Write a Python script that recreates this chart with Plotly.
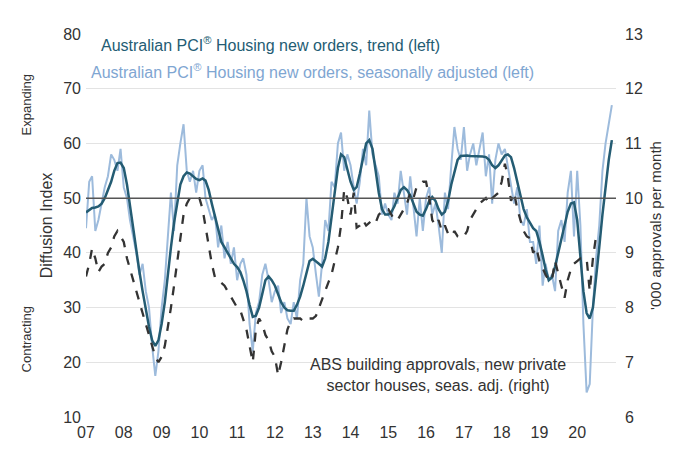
import pandas as pd
import plotly.graph_objects as go

# monthly, Jan 2007 onward
pci_trend = [
    47.4, 47.8, 48.2, 48.3, 48.5, 49, 50, 51.5, 53, 55, 56.4, 56.5,
    55.5, 52.5, 48.5, 44, 40, 36.5, 33, 29.5, 26.5, 24, 23, 24,
    27, 31, 36, 41, 45.5, 49.5, 52.5, 54, 54.7, 54.5, 54, 53.5,
    53.3, 53.6, 53.2, 51.5, 49, 46.5, 44, 42, 41, 40, 39, 38,
    37.4, 36.5, 35, 33, 30.5, 28.3, 28.5, 30, 32.5, 35, 35.7, 35,
    34, 32.5, 31, 30, 29.5, 29.4, 29.4, 30.5, 32, 34, 36.5, 38.5,
    38.9, 38.5, 38, 37.5, 39, 42, 46, 51, 55.5, 58, 57.5, 55,
    53, 51.5, 52, 54.5, 57.5, 60, 60.6, 59, 55, 51, 48, 47,
    47, 47.5, 48.5, 50, 51.5, 52, 51.5, 50.5, 49, 47.5, 47, 46.8,
    48, 49.5, 50.2, 49.5, 48, 47, 47.5, 49.5, 52.5, 55, 57, 57.7,
    57.8, 57.8, 57.7, 57.7, 57.7, 57.6, 57.6, 57.5, 57, 56, 55.5, 56,
    57, 57.8, 58, 57.5, 55.5, 53, 50, 48, 46.5, 45.5, 44.5, 44,
    42, 39.5, 37, 35, 35.5, 37.5, 40, 43, 45.5, 47.5, 49, 49.2,
    46, 40, 33, 29, 28, 30, 35, 41, 47, 52.5, 57, 60.6,
]
pci_sa = [
    44.5, 53, 54, 44, 46, 49, 52, 54, 58, 57, 55, 59,
    52, 50, 46, 43, 40, 36, 38, 33, 30, 23, 17.5, 22,
    30, 35, 42, 51, 44, 56, 60, 63.5, 55, 53, 55, 51,
    55, 56, 50, 48, 46, 47, 41, 45, 39, 42, 38, 41,
    35, 38, 39, 36, 27, 22, 29, 31, 36, 38, 35, 31,
    33, 34, 29, 31, 28, 27, 31, 28, 35, 38, 50, 43,
    41, 36, 32, 38, 46, 44, 53, 52, 60, 62, 55, 58,
    56, 52, 49, 53, 59, 56, 66, 58, 56, 54, 47, 49,
    47, 46, 51, 49, 55, 51, 47, 54, 48, 43, 50, 44,
    50, 52, 47, 49, 45, 40, 51, 48, 56, 63, 59, 57,
    63, 55, 58, 60, 56, 59, 62, 54, 58, 49, 57, 60,
    58, 59, 56, 52, 49, 52, 46, 45, 48, 42, 42, 38,
    45, 34, 38, 35, 36, 33, 44, 46, 42, 51, 55, 43,
    55, 45, 27, 14.5, 16, 30, 39, 45, 55, 60, 64, 67,
]
abs_approvals = [
    8.57, 8.8, 9.08, 8.9, 8.65, 8.75, 8.8, 9.0, 9.1, 9.3, 9.4, 9.3,
    9.2, 8.9, 8.7, 8.5, 8.3, 8.1, 7.9, 7.7, 7.5, 7.3, 7.1, 7.0,
    7.1, 7.3, 7.6, 8.0, 8.4, 8.85, 9.3, 9.7, 9.9, 10.0, 10.0, 10.0,
    10.0, 9.8, 9.5, 9.1, 8.8, 8.55, 8.5, 8.45, 8.4, 8.3, 8.2, 8.1,
    8.0, 7.95, 7.8, 7.6, 7.3, 7.0, 7.6, 7.8, 7.7, 7.5, 7.4, 7.2,
    7.1, 6.76, 7.0, 7.3, 7.6, 7.75, 7.8, 7.8, 7.8, 7.75, 7.8, 7.8,
    7.8, 7.85, 8.0, 8.15, 8.3, 8.46, 8.6, 8.85, 9.1, 9.5, 10.16, 10.0,
    9.7, 10.1, 9.46, 9.5, 9.6, 9.5, 9.55, 9.6, 9.55, 9.7, 9.75, 9.8,
    9.8, 9.7, 9.6, 9.6, 9.7, 9.8, 9.9, 10.1, 10.0, 10.2, 10.25, 10.3,
    10.3, 10.0, 9.6, 9.5, 9.6, 9.4, 9.5, 9.35, 9.3, 9.4, 9.3, 9.27,
    9.3, 9.4, 9.6, 9.7, 9.8, 9.9, 9.95, 10.0, 9.9, 10.0, 10.05, 10.1,
    10.3, 10.63, 10.4, 9.95, 10.1, 9.8, 9.6, 9.4, 9.3, 9.27, 9.0, 9.1,
    8.85, 8.7, 8.6, 8.5, 8.5, 8.85, 8.6, 8.4, 8.18, 8.5, 8.7, 8.8,
    8.85, 8.9, 8.9, 8.9, 8.3, 8.9, 9.3,
]
year_labels = ["07", "08", "09", "10", "11", "12", "13", "14", "15", "16", "17", "18", "19", "20"]

months = pd.date_range("2007-01-01", periods=len(pci_trend), freq="MS")
tickvals = pd.date_range("2007-01-01", periods=len(year_labels), freq="YS")

FONT = "Liberation Sans, Arial, sans-serif"
fig = go.Figure()
fig.add_trace(go.Scatter(x=months, y=pci_sa, mode="lines",
                         line=dict(color="#9dbbdc", width=2), showlegend=False))
fig.add_trace(go.Scatter(x=months[:len(abs_approvals)], y=abs_approvals, mode="lines",
                         line=dict(color="#333333", width=2.3, dash="dash"),
                         yaxis="y2", showlegend=False))
fig.add_trace(go.Scatter(x=months, y=pci_trend, mode="lines",
                         line=dict(color="#245c73", width=2.5), showlegend=False))

fig.add_hline(y=50, line=dict(color="#555555", width=1.5))

fig.update_layout(
    width=680, height=471,
    margin=dict(l=78, r=72, t=26, b=62),
    plot_bgcolor="white", paper_bgcolor="white",
    font=dict(family=FONT, size=16, color="#333333"),
    xaxis=dict(range=["2007-01-01", "2021-01-10"], tickvals=tickvals,
               ticktext=year_labels, showgrid=False, showline=False,
               ticks="", zeroline=False, ticklabelstandoff=4),
    yaxis=dict(range=[10, 80], dtick=10, showgrid=True, gridcolor="#e3e3e3",
               zeroline=False, ticks="", ticklabelstandoff=4,
               title=dict(text="Diffusion Index", standoff=6, font=dict(size=16))),
    yaxis2=dict(range=[6, 13], dtick=1, overlaying="y", side="right",
                showgrid=False, zeroline=False, ticks="", ticklabelstandoff=8,
                title=dict(text="'000 approvals per month", standoff=8, font=dict(size=15))),
    annotations=[
        dict(text="Expanding", xref="paper", yref="paper", x=-0.13, y=0.9,
             textangle=-90, showarrow=False, font=dict(size=13)),
        dict(text="Contracting", xref="paper", yref="paper", x=-0.13, y=0.11,
             textangle=-90, showarrow=False, font=dict(size=13)),
        dict(text="Australian PCI<sup>®</sup> Housing new orders, trend (left)",
             xref="paper", yref="paper", x=0.025, y=1.005, xanchor="left",
             showarrow=False, font=dict(size=16, color="#245c73")),
        dict(text="Australian PCI<sup>®</sup> Housing new orders, seasonally adjusted (left)",
             xref="paper", yref="paper", x=0.005, y=0.935, xanchor="left",
             showarrow=False, font=dict(size=16, color="#7fa6d2")),
        dict(text="ABS building approvals, new private<br>sector houses, seas. adj. (right)",
             xref="paper", yref="paper", x=0.665, y=0.055, xanchor="center",
             showarrow=False, font=dict(size=16, color="#333333")),
    ],
)

fig.write_html("out.html")
